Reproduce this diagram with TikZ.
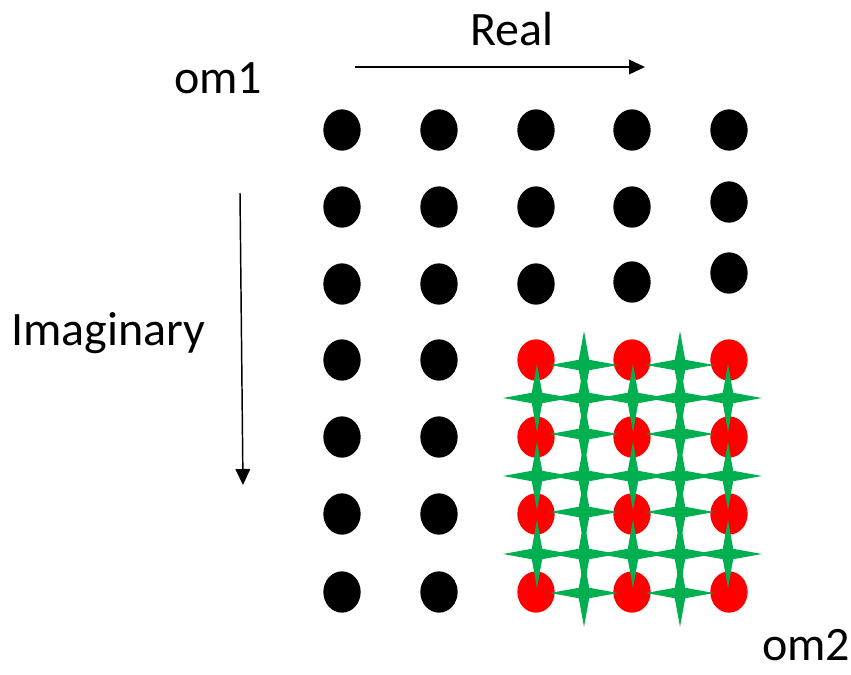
\documentclass[tikz,border=0pt]{standalone}
\usepackage{fontspec}
\setmainfont{Carlito}
\usetikzlibrary{shapes.geometric, arrows.meta}

\definecolor{dotred}{RGB}{255,0,0}
\definecolor{stargreen}{RGB}{0,176,80}

\tikzset{
  blackdot/.style={ellipse, fill=black, inner sep=0pt, minimum width=28, minimum height=31},
  reddot/.style={blackdot, fill=dotred},
  greenstar/.style={star, star points=4, star point ratio=4.6, fill=stargreen, inner sep=0pt, outer sep=0pt, minimum size=51},
  axislabel/.style={anchor=base, inner sep=0pt, font=\fontsize{36}{42}\selectfont},
  axisarrow/.style={-{Triangle[length=12pt,width=11pt]}, line width=1.1pt}
}

\begin{document}
\begin{tikzpicture}[x=0.75pt,y=-0.75pt]
\useasboundingbox (0,0) rectangle (851,675);
% labels
\node[axislabel] (real) at (512,45) {Real};
\node[axislabel] (om1) at (218,93) {om1};
\node[axislabel] (imag) at (108,345) {Imaginary};
\node[axislabel] (om2) at (806,660) {om2};
% axes
\coordinate (realstart) at (355,67);
\coordinate (realend) at (645,67);
\coordinate (imagstart) at (240,193);
\coordinate (imagend) at (243,485);
\draw[axisarrow] (realstart) -- (realend);
\draw[axisarrow] (imagstart) -- (imagend);
% black grid points
\foreach \r/\y in {1/130,2/207,3/284,4/360,5/437,6/514,7/592}{
  \node[blackdot] (d\r-1) at (342,\y) {};
  \node[blackdot] (d\r-2) at (439,\y) {};
}
\foreach \c/\x/\ya/\yb/\yc in {3/536/130/207/284, 4/632/130/207/282, 5/729/130/202/273}{
  \node[blackdot] (d1-\c) at (\x,\ya) {};
  \node[blackdot] (d2-\c) at (\x,\yb) {};
  \node[blackdot] (d3-\c) at (\x,\yc) {};
}
% red grid points
\foreach \r/\y in {4/360,5/437,6/514,7/592}
  \foreach \c/\x in {3/536,4/632,5/729}
    \node[reddot] (d\r-\c) at (\x,\y) {};
% green stars
\foreach \r/\y in {1/365,3/434,5/512,7/593}
  \foreach \c/\x in {2/584,4/680}
    \node[greenstar] (s\r-\c) at (\x,\y) {};
\foreach \r/\y in {2/398,4/476,6/554}
  \foreach \c/\x in {1/537,2/584,3/633,4/680,5/728}
    \node[greenstar] (s\r-\c) at (\x,\y) {};
\end{tikzpicture}
\end{document}
